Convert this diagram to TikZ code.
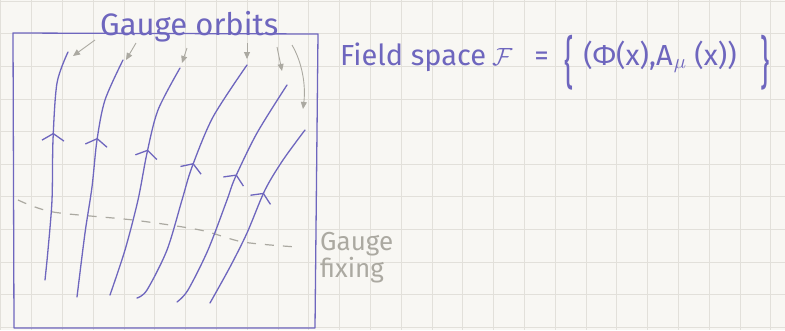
\documentclass[tikz,border=0pt]{standalone}
\usepackage{fontspec}
\setmainfont{Fira Sans}
\usetikzlibrary{arrows.meta,decorations.markings}
\definecolor{ink}{HTML}{6E66BE}
\definecolor{pencil}{HTML}{ABA9A1}
\definecolor{paper}{HTML}{F8F7F3}
\definecolor{gridc}{HTML}{E2E0DA}
\tikzset{
  orbit/.style={draw=ink, line width=1.3pt, line cap=round},
  chev/.style={postaction={decorate}, decoration={markings,
     mark=at position #1 with {\arrow[ink,line width=1.3pt]{Straight Barb[length=7pt,width=22pt]}}}},
  pointer/.style={draw=pencil, line width=0.9pt, -{Triangle[length=7pt,width=6pt]}},
  inktext/.style={text=ink, inner sep=0pt},
  penciltext/.style={text=pencil, inner sep=0pt},
}
\begin{document}
\begin{tikzpicture}[x=1pt,y=-1pt]
\fill[paper] (0,0) rectangle (785,330);
\useasboundingbox (0,0) rectangle (785,330);
% grid
\foreach \i in {0,...,25} \draw[gridc, line width=0.8pt] ({0.8+30.8*\i},0) -- ({0.8+30.8*\i},330);
\foreach \j in {0,...,10} \draw[gridc, line width=0.8pt] (0,{1.2+32.6*\j}) -- (785,{1.2+32.6*\j});
% field space box
\draw[ink, line width=1.3pt, line join=round] (13,33) -- (318,34) -- (315,328) -- (14,328) -- cycle;
% gauge fixing
\draw[pencil, line width=1.2pt, dash pattern=on 9pt off 9pt] plot[smooth] coordinates {(18,200) (53,212) (133,220) (200,230) (243,242) (297,247)};
% orbits
\draw[orbit, chev=0.64] plot[smooth] coordinates {(45,280) (48,250) (52,200) (53,140) (57,83) (68,52)};
\draw[orbit, chev=0.66] plot[smooth] coordinates {(77,297) (85,233) (92,187) (97,140) (105,100) (123,60)};
\draw[orbit, chev=0.63] plot[smooth] coordinates {(110,295) (125,250) (138,200) (147,153) (158,110) (180,68)};
\draw[orbit, chev=0.57] plot[smooth] coordinates {(137,298) (147,290) (167,250) (182,200) (192,167) (213,117) (247,65)};
\draw[orbit, chev=0.58] plot[smooth] coordinates {(177,302) (188,290) (208,250) (227,200) (235,178) (257,133) (287,85)};
\draw[orbit, chev=0.62] plot[smooth] coordinates {(210,303) (230,267) (247,233) (265,190) (283,160) (305,130)};
% labels
\node[inktext, anchor=base west, font=\fontsize{31}{32}\selectfont] (orb) at (100,35) {Gauge orbits};
\node[inktext, anchor=base west, font=\fontsize{29}{30}\selectfont] (fs) at (340,65)
  {Field space\hspace{6pt}$\mathcal{F}$\hspace{22pt}=\hspace{16pt}\raisebox{-0.36\height}{\scalebox{1}[1.95]{\{}}\hspace{9pt}(Φ(x),A\kern1pt$_{\mu}$\kern8pt(x))\hspace{24pt}\raisebox{-0.36\height}{\scalebox{1}[1.95]{\}}}};
\node[penciltext, anchor=base west, font=\fontsize{26}{28}\selectfont] (gf1) at (320,250) {Gauge};
\node[penciltext, anchor=base west, font=\fontsize{26}{28}\selectfont] (gf2) at (320,277) {fixing};
% pointers
\coordinate (p1) at (95,40);  \coordinate (q1) at (73,56);
\coordinate (p2) at (136,43); \coordinate (q2) at (126,60);
\coordinate (p3) at (187,48); \coordinate (q3) at (182,63);
\coordinate (p4) at (247,43); \coordinate (q4) at (247,59);
\coordinate (p5) at (277,47); \coordinate (q5) at (282,71);
\coordinate (p6) at (292,45); \coordinate (q6) at (303,109);
\draw[pointer] (p1) -- (q1);
\draw[pointer] (p2) -- (q2);
\draw[pointer] (p3) -- (q3);
\draw[pointer] (p4) -- (q4);
\draw[pointer] (p5) -- (q5);
\draw[pointer] (p6) .. controls (302,62) and (306,85) .. (q6);
\end{tikzpicture}
\end{document}
